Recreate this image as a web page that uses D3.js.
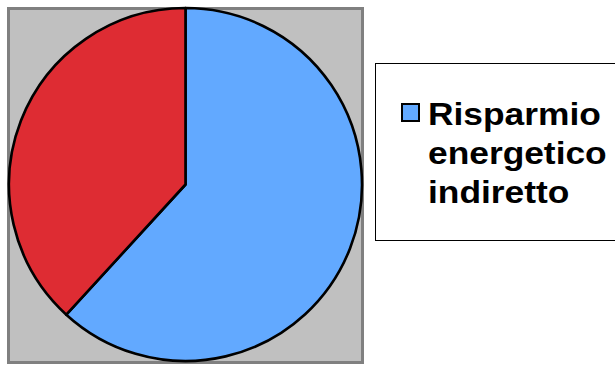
<!DOCTYPE html>
<html>
<head>
<meta charset="utf-8">
<script src="https://cdn.jsdelivr.net/npm/d3@7"></script>
<style>
  body { margin: 0; background: #fff; }
  svg { display: block; }
</style>
</head>
<body>
<div id="plot"></div>
<script>
// pie data
const categories = ["Risparmio energetico indiretto", "Altro"];
const values = [61.8, 38.2];
const colors = ["#62A9FF", "#DE2C33"];
// legend only shows the first entry, wrapped on three lines
const legendLines = ["Risparmio", "energetico", "indiretto"];

const w = 615;
const h = 365;

const svg = d3.select("div#plot")
    .append("svg")
    .attr("width", w)
    .attr("height", h);

// plot area
svg.append("rect")
    .attr("x", 8.5)
    .attr("y", 8.5)
    .attr("width", 354)
    .attr("height", 354)
    .attr("fill", "#C0C0C0")
    .attr("stroke", "#808080")
    .attr("stroke-width", 3);

const cx = 185.5, cy = 184.5, r = 176.5;

const pie = d3.pie()
    .sort(null)
    .value(d => d);

const arc = d3.arc()
    .innerRadius(0)
    .outerRadius(r);

const color = d3.scaleOrdinal()
    .domain(categories)
    .range(colors);

svg.append("g")
    .attr("transform", `translate(${cx},${cy})`)
  .selectAll("path")
    .data(pie(values))
  .enter().append("path")
    .attr("d", arc)
    .attr("fill", (d, i) => color(categories[i]))
    .attr("stroke", "#000")
    .attr("stroke-width", 2.6)
    .attr("stroke-linejoin", "round");

// legend
const legend = svg.append("g");

legend.append("rect")
    .attr("x", 375.5)
    .attr("y", 63.5)
    .attr("width", 260)
    .attr("height", 177)
    .attr("fill", "#fff")
    .attr("stroke", "#000")
    .attr("stroke-width", 1);

legend.append("rect")
    .attr("x", 402)
    .attr("y", 104)
    .attr("width", 17)
    .attr("height", 17)
    .attr("fill", color(categories[0]))
    .attr("stroke", "#000")
    .attr("stroke-width", 2);

const txt = legend.append("g")
    .attr("transform", "translate(428,0) scale(1.14,1)");

txt.selectAll("text")
    .data(legendLines)
  .enter().append("text")
    .attr("x", 0)
    .attr("y", (d, i) => 125 + i * 39)
    .attr("font-family", "Arial, 'Liberation Sans', sans-serif")
    .attr("font-weight", "bold")
    .attr("font-size", 31)
    .attr("fill", "#000")
    .text(d => d);
</script>
</body>
</html>
